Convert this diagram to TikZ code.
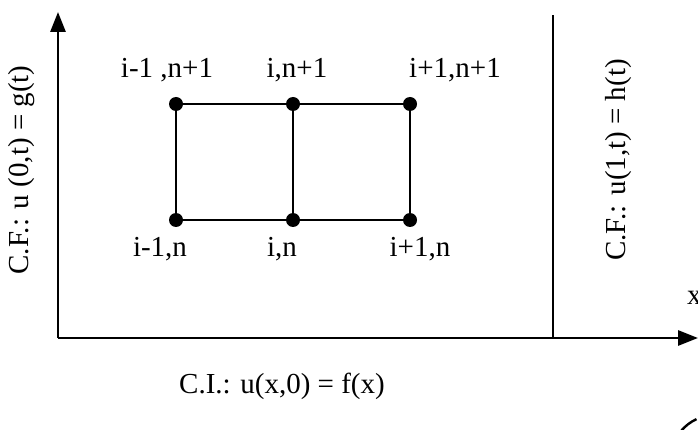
\documentclass[tikz,border=0pt]{standalone}
\usepackage{fontspec}
\setmainfont{Liberation Serif}
\usetikzlibrary{arrows.meta}
\begin{document}
\begin{tikzpicture}[x=1pt,y=-1pt,
  pt/.style={circle,fill=black,inner sep=0pt,minimum size=14pt},
  grid/.style={line width=2.6pt},
  axis/.style={line width=2.8pt,-{Triangle[length=20pt,width=15pt]}},
  lbl/.style={font=\fontsize{29}{34}\selectfont,inner sep=0pt}]
\useasboundingbox (0,0) rectangle (698,430);
% grid points
\node[pt] (a1) at (176,104) {};
\node[pt] (a2) at (293,104) {};
\node[pt] (a3) at (410,104) {};
\node[pt] (b1) at (176,220) {};
\node[pt] (b2) at (293,220) {};
\node[pt] (b3) at (410,220) {};
\draw[grid] (a1.center) -- (a2.center) -- (a3.center) -- (b3.center) -- (b2.center) -- (b1.center) -- (a1.center);
\draw[grid] (a2.center) -- (b2.center);
% axes
\coordinate (o) at (58,338);
\coordinate (ty) at (58,12);
\coordinate (tx) at (698,338);
\draw[axis] (o) -- (ty);
\draw[axis] (o) -- (tx);
\coordinate (r0) at (553,338);
\coordinate (r1) at (553,15);
\draw[line width=2.6pt] (r0) -- (r1);
% labels
\node[lbl] (l1) at (167,70) {i-1 ,n+1};
\node[lbl] (l2) at (297,70) {i,n+1};
\node[lbl] (l3) at (455,70) {i+1,n+1};
\node[lbl] (l4) at (160,249) {i-1,n};
\node[lbl] (l5) at (282,249) {i,n};
\node[lbl] (l6) at (420,249) {i+1,n};
\node[lbl,rotate=90] (cf1) at (22,170) {C.F.: u (0,t) = g(t)};
\node[lbl,rotate=90] (cf2) at (619,160) {C.F.: u(1,t) = h(t)};
\node[lbl] (ci) at (282,386) {C.I.: u(x,0) = f(x)};
\node[lbl,anchor=west] (xl) at (687,298) {x};
% partial circle at corner
\draw[line width=2.4pt] (681,431) arc[start angle=220,end angle=245,radius=45];
\end{tikzpicture}
\end{document}
